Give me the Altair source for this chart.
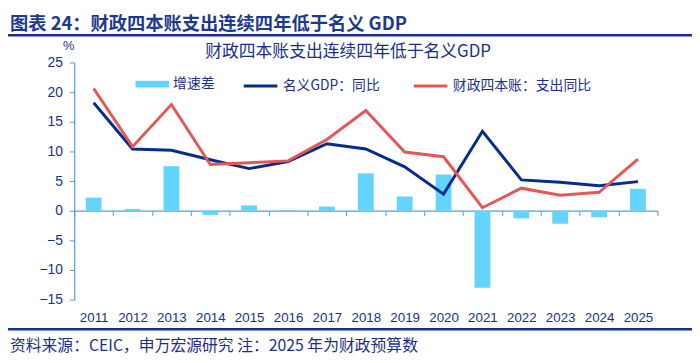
import altair as alt
import pandas as pd

years = ["2011", "2012", "2013", "2014", "2015", "2016", "2017", "2018",
         "2019", "2020", "2021", "2022", "2023", "2024", "2025"]
gdp = [18.2, 10.4, 10.2, 8.6, 7.1, 8.3, 11.3, 10.4, 7.4, 2.8, 13.4, 5.2, 4.8, 4.2, 4.9]
fiscal = [20.6, 10.8, 17.9, 7.8, 8.1, 8.4, 12.0, 16.9, 9.9, 9.1, 0.5, 3.8, 2.6, 3.1, 8.7]
diff = [2.2, 0.3, 7.5, -0.7, 0.9, 0.1, 0.7, 6.3, 2.4, 6.1, -13.0, -1.3, -2.2, -1.1, 3.7]

bar_name = "增速差"
gdp_name = "名义GDP：同比"
fis_name = "财政四本账：支出同比"

header = "图表 24：财政四本账支出连续四年低于名义 GDP"
subtitle = "财政四本账支出连续四年低于名义GDP"
source = "资料来源：CEIC，申万宏源研究 注：2025 年为财政预算数"

NAVY = "#1B2F86"
AXIS = "#5B9BD5"
CJK = "Noto Sans CJK SC"
LAT = "Liberation Sans"

bar_df = pd.DataFrame({"year": years, "value": diff, "series": [bar_name] * len(years)})
line_df = pd.DataFrame({
    "year": years + years,
    "value": gdp + fiscal,
    "series": [gdp_name] * len(years) + [fis_name] * len(years),
})

x_axis = alt.Axis(
    orient="bottom", offset=-90, domainColor=AXIS, domainWidth=1.2,
    tickColor=AXIS, tickSize=5, tickBand="extent", labelAngle=0,
    labelPadding=96, labelFont=LAT, labelFontSize=13.5, labelColor=NAVY,
    title=None,
)
x_enc = alt.X("year:N", sort=years, axis=x_axis,
              scale=alt.Scale(paddingInner=0, paddingOuter=0))
y_enc = alt.Y(
    "value:Q",
    scale=alt.Scale(domain=[-15, 25], nice=False, zero=False),
    axis=alt.Axis(
        values=[-15, -10, -5, 0, 5, 10, 15, 20, 25], grid=False,
        domainColor=AXIS, domainWidth=1.2, tickColor=AXIS, tickSize=5,
        labelFont=LAT, labelFontSize=14, labelColor=NAVY, labelPadding=7,
        title="%", titleAngle=0, titleX=-6, titleY=-10, titleAlign="center",
        titleBaseline="bottom", titleFont=LAT, titleFontSize=13,
        titleFontWeight="normal", titleColor=NAVY,
    ),
)

bars = alt.Chart(bar_df).mark_bar(width=16).encode(
    x=x_enc,
    y=y_enc,
    fill=alt.Fill(
        "series:N",
        scale=alt.Scale(domain=[bar_name], range=["#63D4FF"]),
        legend=alt.Legend(
            title=None, orient="none", legendX=62, legendY=5,
            symbolType="M-1,-0.2H1V0.2H-1Z", symbolSize=1156,
            symbolStrokeWidth=0, labelFont=CJK, labelFontSize=14,
            labelColor=NAVY, labelOffset=4,
        ),
    ),
)

lines = alt.Chart(line_df).mark_line(strokeWidth=3).encode(
    x=x_enc,
    y=y_enc,
    stroke=alt.Stroke(
        "series:N",
        sort=[gdp_name, fis_name],
        scale=alt.Scale(domain=[gdp_name, fis_name], range=["#062D8E", "#E55757"]),
        legend=alt.Legend(
            title=None, orient="none", direction="horizontal",
            legendX=170, legendY=5, symbolType="stroke", symbolSize=1156,
            symbolStrokeWidth=3, labelFont=CJK, labelFontSize=14,
            labelColor=NAVY, labelOffset=4, columnPadding=27,
        ),
    ),
)

head_txt = alt.Chart(pd.DataFrame({"t": [header]})).mark_text(
    align="left", baseline="middle", font=CJK, fontSize=18.5, fontWeight="bold",
    color="#1E3A8E",
).encode(x=alt.value(-65), y=alt.value(-39), text="t:N")

sub_txt = alt.Chart(pd.DataFrame({"t": [subtitle]})).mark_text(
    align="center", baseline="middle", font=CJK, fontSize=17, color=NAVY,
).encode(x=alt.value(277), y=alt.value(-11), text="t:N")

src_txt = alt.Chart(pd.DataFrame({"t": [source]})).mark_text(
    align="left", baseline="middle", font=CJK, fontSize=16, color=NAVY,
).encode(x=alt.value(-65), y=alt.value(287), text="t:N")

head_rule = alt.Chart(pd.DataFrame({"a": [0]})).mark_rule(
    color="#1B2F8F", strokeWidth=2.5
).encode(x=alt.value(-67), x2=alt.value(625), y=alt.value(-27.5))

foot_rule = alt.Chart(pd.DataFrame({"a": [0]})).mark_rule(
    color="#1B2F8F", strokeWidth=2.5
).encode(x=alt.value(-67), x2=alt.value(625), y=alt.value(270))

chart = alt.layer(
    bars, lines, head_txt, sub_txt, src_txt, head_rule, foot_rule
).resolve_scale(
    fill="independent", stroke="independent"
).properties(
    width=590, height=240,
    autosize=alt.AutoSizeParams(type="none"),
    padding={"left": 67, "top": 53, "right": 35, "bottom": 62},
    background="white",
).configure_view(stroke=None)

chart.save("out.html", embed_options={"renderer": "svg", "actions": False})
